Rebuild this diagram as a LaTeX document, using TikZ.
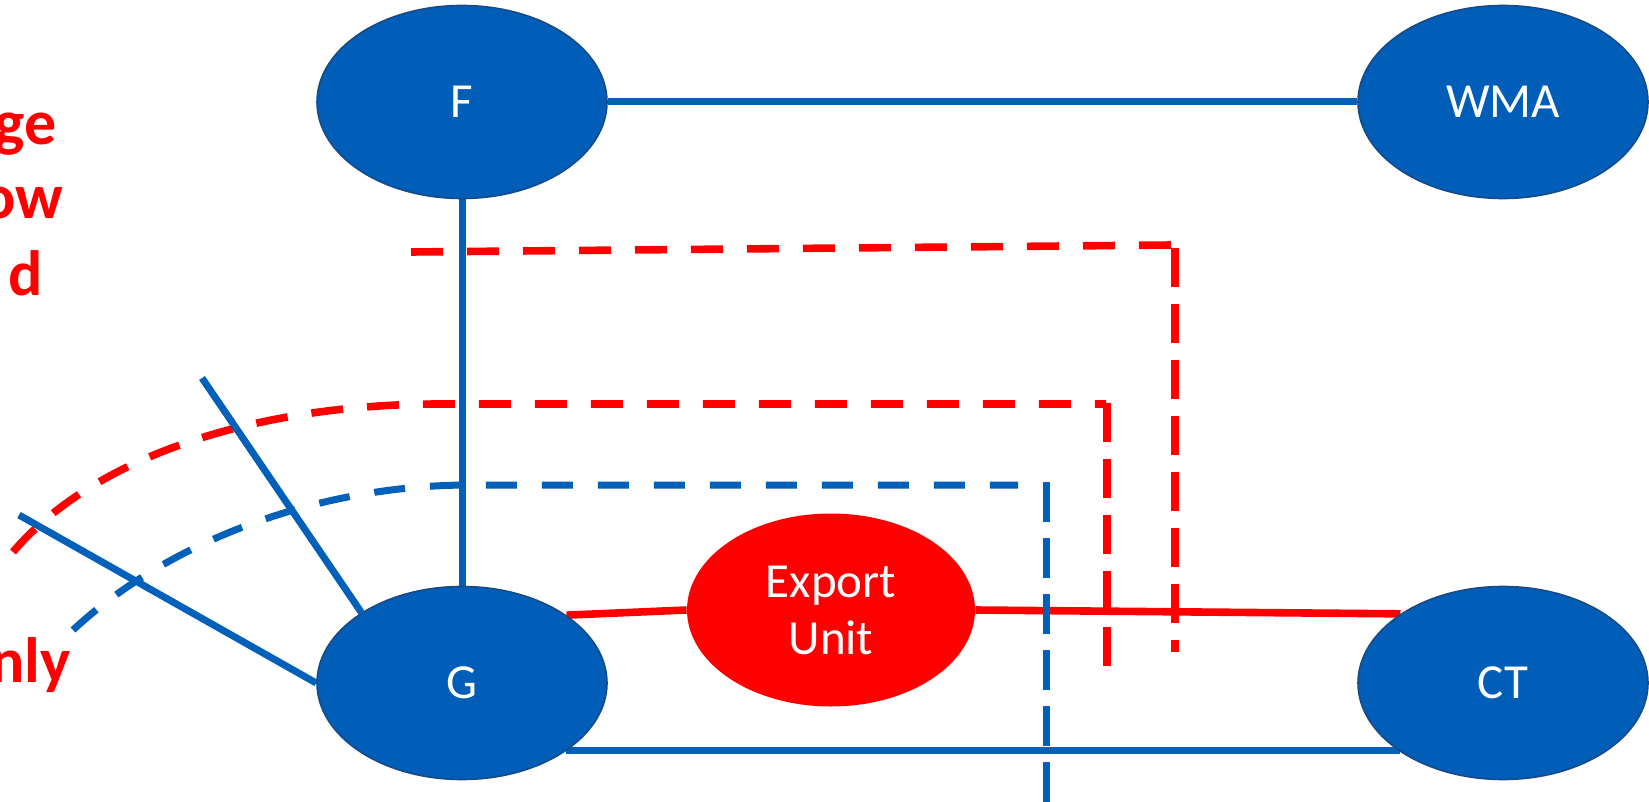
\documentclass[tikz,border=0pt]{standalone}
\usepackage{fontspec}
\setmainfont{Carlito}
\usetikzlibrary{shapes.geometric,backgrounds}
\definecolor{nodeblue}{RGB}{0,94,184}
\definecolor{lineblue}{RGB}{0,96,186}
\definecolor{bordblue}{RGB}{24,74,135}
\definecolor{myred}{RGB}{255,0,0}
\tikzset{
  bluenode/.style={ellipse, fill=nodeblue, draw=bordblue, line width=0.8pt,
    minimum width=145pt, minimum height=96.5pt, inner sep=0pt,
    text=white, font=\fontsize{24.5pt}{28.5pt}\selectfont},
  rednode/.style={ellipse, fill=myred, draw=none,
    minimum width=144pt, minimum height=96.5pt, inner sep=0pt,
    text=white, align=center, font=\fontsize{24.5pt}{28.5pt}\selectfont},
  blueline/.style={draw=lineblue, line width=3.5pt},
  redline/.style={draw=myred, line width=3.8pt},
  reddashH/.style={draw=myred, line width=3.8pt, dash pattern=on 16pt off 12pt},
  reddashV/.style={draw=myred, line width=3.8pt, dash pattern=on 19.5pt off 8.5pt},
  bluedashH/.style={draw=lineblue, line width=3.5pt, dash pattern=on 15.5pt off 12.5pt},
  bluedashV/.style={draw=lineblue, line width=3.5pt, dash pattern=on 20pt off 8pt},
  sidetext/.style={text=myred, font=\bfseries\fontsize{32pt}{38pt}\selectfont, inner sep=0pt, anchor=base east}
}
\begin{document}
\begin{tikzpicture}[x=0.5pt, y=-0.5pt]
\useasboundingbox (0,0) rectangle (1649,802);
\clip (0,0) rectangle (1649,802);

% nodes
\node[bluenode] (F) at (462,102) {F};
\node[bluenode] (WMA) at (1503,102) {WMA};
\node[bluenode] (G) at (462,683) {G};
\node[bluenode] (CT) at (1503,683) {CT};
\node[rednode] (EU) at (831,610) {Export\\Unit};

% free ends
\coordinate (rt1) at (411,252);
\coordinate (rt2) at (1172,245);
\coordinate (rv1) at (1175,248);
\coordinate (rv2) at (1175,652);
\coordinate (rm1) at (13,552);
\coordinate (rm2) at (1106,404);
\coordinate (rmv1) at (1107,403);
\coordinate (rmv2) at (1107,667);
\coordinate (bm1) at (73,630);
\coordinate (bm2) at (1018,485);
\coordinate (bv1) at (1046,482);
\coordinate (bv2) at (1046,802);
\coordinate (s1) at (202,378);
\coordinate (s2) at (19,515);

\begin{scope}[on background layer]
  % red solid
  \draw[redline] (G.33) -- (EU.west);
  \draw[redline] (EU.east) -- (CT.146.7);
  % red dashed
  \draw[reddashH] (rt1) -- (rt2);
  \draw[reddashV] (rv1) -- (rv2);
  \draw[reddashH] (rm1) .. controls (100,450) and (270,404) .. (440,404) -- (rm2);
  \draw[reddashV] (rmv1) -- (rmv2);
  % blue dashed
  \draw[bluedashH] (bm1) .. controls (170,540) and (320,485) .. (470,485) -- (bm2);
  \draw[bluedashV] (bv1) -- (bv2);
  % blue solid
  \draw[blueline] (F.east) -- (WMA.west);
  \draw[blueline] (F.south) -- (G.north);
  \draw[blueline] (G.-33.4) -- (CT.-146.6 |- G.-33.4);
  \draw[blueline] (s1) -- (G.145.5);
  \draw[blueline] (s2) -- (G.west);
\end{scope}

% clipped side text
\node[sidetext] (t1) at (57,145) {ge};
\node[sidetext] (t2) at (64,219) {ow};
\node[sidetext] (t3) at (43,295) {d};
\node[sidetext] (t4) at (4,602) {n};
\node[sidetext] (t5) at (71,682) {nly};
\end{tikzpicture}
\end{document}
